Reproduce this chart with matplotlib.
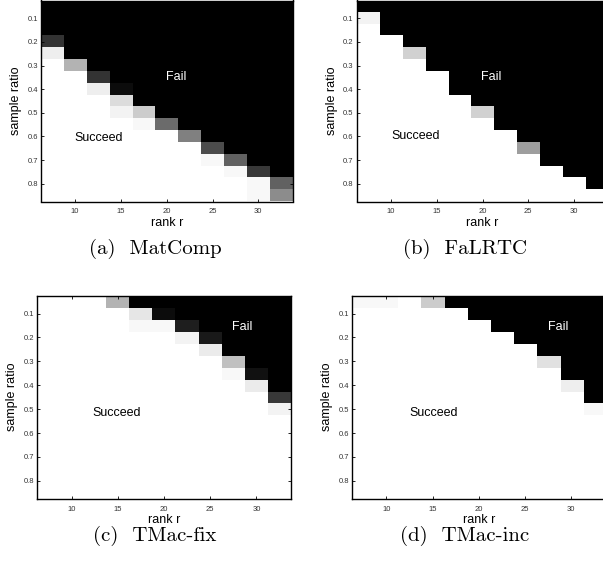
import matplotlib
matplotlib.use("Agg")
import numpy as np
import matplotlib.pyplot as plt

# rank r (columns) and sample ratio (rows) of each grid cell
ranks = [7.5, 10, 12.5, 15, 17.5, 20, 22.5, 25, 27.5, 30, 32.5]
ratios = [0.05, 0.10, 0.15, 0.20, 0.25, 0.30, 0.35, 0.40, 0.45,
          0.50, 0.55, 0.60, 0.65, 0.70, 0.75, 0.80, 0.85]

xticks = [10, 15, 20, 25, 30]
yticks = [0.1, 0.2, 0.3, 0.4, 0.5, 0.6, 0.7, 0.8]

# success rate, one row per sample ratio (0 = fail, 1 = succeed)
matcomp = [
    [0, 0, 0, 0, 0, 0, 0, 0, 0, 0, 0],
    [0, 0, 0, 0, 0, 0, 0, 0, 0, 0, 0],
    [0, 0, 0, 0, 0, 0, 0, 0, 0, 0, 0],
    [.2, 0, 0, 0, 0, 0, 0, 0, 0, 0, 0],
    [.93, 0, 0, 0, 0, 0, 0, 0, 0, 0, 0],
    [1, .7, 0, 0, 0, 0, 0, 0, 0, 0, 0],
    [1, 1, .2, 0, 0, 0, 0, 0, 0, 0, 0],
    [1, 1, .93, .05, 0, 0, 0, 0, 0, 0, 0],
    [1, 1, 1, .86, 0, 0, 0, 0, 0, 0, 0],
    [1, 1, 1, .95, .8, 0, 0, 0, 0, 0, 0],
    [1, 1, 1, 1, .97, .42, 0, 0, 0, 0, 0],
    [1, 1, 1, 1, 1, 1, .5, 0, 0, 0, 0],
    [1, 1, 1, 1, 1, 1, 1, .3, 0, 0, 0],
    [1, 1, 1, 1, 1, 1, 1, .97, .38, 0, 0],
    [1, 1, 1, 1, 1, 1, 1, 1, .97, .22, 0],
    [1, 1, 1, 1, 1, 1, 1, 1, 1, .97, .38],
    [1, 1, 1, 1, 1, 1, 1, 1, 1, .97, .55],
]

falrtc = [
    [0, 0, 0, 0, 0, 0, 0, 0, 0, 0, 0],
    [.95, 0, 0, 0, 0, 0, 0, 0, 0, 0, 0],
    [1, 0, 0, 0, 0, 0, 0, 0, 0, 0, 0],
    [1, 1, 0, 0, 0, 0, 0, 0, 0, 0, 0],
    [1, 1, .82, 0, 0, 0, 0, 0, 0, 0, 0],
    [1, 1, 1, 0, 0, 0, 0, 0, 0, 0, 0],
    [1, 1, 1, 1, 0, 0, 0, 0, 0, 0, 0],
    [1, 1, 1, 1, 0, 0, 0, 0, 0, 0, 0],
    [1, 1, 1, 1, 1, 0, 0, 0, 0, 0, 0],
    [1, 1, 1, 1, 1, .82, 0, 0, 0, 0, 0],
    [1, 1, 1, 1, 1, 1, 0, 0, 0, 0, 0],
    [1, 1, 1, 1, 1, 1, 1, 0, 0, 0, 0],
    [1, 1, 1, 1, 1, 1, 1, .62, 0, 0, 0],
    [1, 1, 1, 1, 1, 1, 1, 1, 0, 0, 0],
    [1, 1, 1, 1, 1, 1, 1, 1, 1, 0, 0],
    [1, 1, 1, 1, 1, 1, 1, 1, 1, 1, 0],
    [1, 1, 1, 1, 1, 1, 1, 1, 1, 1, 1],
]

tmac_fix = [
    [1, 1, 1, .7, 0, 0, 0, 0, 0, 0, 0],
    [1, 1, 1, 1, .9, .05, 0, 0, 0, 0, 0],
    [1, 1, 1, 1, .97, .97, .12, 0, 0, 0, 0],
    [1, 1, 1, 1, 1, 1, .95, .1, 0, 0, 0],
    [1, 1, 1, 1, 1, 1, 1, .92, 0, 0, 0],
    [1, 1, 1, 1, 1, 1, 1, 1, .75, 0, 0],
    [1, 1, 1, 1, 1, 1, 1, 1, .97, .07, 0],
    [1, 1, 1, 1, 1, 1, 1, 1, 1, .92, 0],
    [1, 1, 1, 1, 1, 1, 1, 1, 1, 1, .22],
    [1, 1, 1, 1, 1, 1, 1, 1, 1, 1, .95],
    [1, 1, 1, 1, 1, 1, 1, 1, 1, 1, 1],
    [1, 1, 1, 1, 1, 1, 1, 1, 1, 1, 1],
    [1, 1, 1, 1, 1, 1, 1, 1, 1, 1, 1],
    [1, 1, 1, 1, 1, 1, 1, 1, 1, 1, 1],
    [1, 1, 1, 1, 1, 1, 1, 1, 1, 1, 1],
    [1, 1, 1, 1, 1, 1, 1, 1, 1, 1, 1],
    [1, 1, 1, 1, 1, 1, 1, 1, 1, 1, 1],
]

tmac_inc = [
    [.97, .97, 1, .8, 0, 0, 0, 0, 0, 0, 0],
    [1, 1, 1, 1, 1, 0, 0, 0, 0, 0, 0],
    [1, 1, 1, 1, 1, 1, 0, 0, 0, 0, 0],
    [1, 1, 1, 1, 1, 1, 1, 0, 0, 0, 0],
    [1, 1, 1, 1, 1, 1, 1, 1, 0, 0, 0],
    [1, 1, 1, 1, 1, 1, 1, 1, .88, 0, 0],
    [1, 1, 1, 1, 1, 1, 1, 1, 1, 0, 0],
    [1, 1, 1, 1, 1, 1, 1, 1, 1, .93, 0],
    [1, 1, 1, 1, 1, 1, 1, 1, 1, 1, 0],
    [1, 1, 1, 1, 1, 1, 1, 1, 1, 1, .97],
    [1, 1, 1, 1, 1, 1, 1, 1, 1, 1, 1],
    [1, 1, 1, 1, 1, 1, 1, 1, 1, 1, 1],
    [1, 1, 1, 1, 1, 1, 1, 1, 1, 1, 1],
    [1, 1, 1, 1, 1, 1, 1, 1, 1, 1, 1],
    [1, 1, 1, 1, 1, 1, 1, 1, 1, 1, 1],
    [1, 1, 1, 1, 1, 1, 1, 1, 1, 1, 1],
    [1, 1, 1, 1, 1, 1, 1, 1, 1, 1, 1],
]

captions = ['(a)  MatComp', '(b)  FaLRTC', '(c)  TMac-fix', '(d)  TMac-inc']
fail_pos = [(21, 0.35), (21, 0.35), (28.5, 0.155), (28.6, 0.155)]
succ_pos = [(12.6, 0.605), (12.7, 0.6), (14.9, 0.515), (15.1, 0.515)]

W, H = 603, 565
fig = plt.figure(figsize=(W / 100, H / 100), dpi=100)

# axes boxes in pixels: left, top, width, height
boxes = [(40.7, 0.5, 252, 201), (356.5, 0.5, 252, 201),
         (37, 295.7, 254, 203), (351.7, 295.7, 254, 203)]
cap_xy = [(155, 249), (465, 249), (155, 536), (465, 536)]

dr = ratios[1] - ratios[0]
dk = ranks[1] - ranks[0]
ext = [ranks[0] - dk / 2, ranks[-1] + dk / 2, ratios[-1] + dr / 2, ratios[0] - dr / 2]

for i, data in enumerate([matcomp, falrtc, tmac_fix, tmac_inc]):
    l, t, w, h = boxes[i]
    ax = fig.add_axes([l / W, 1 - (t + h) / H, w / W, h / H])
    ax.imshow(np.array(data), cmap='gray', vmin=0, vmax=1, extent=ext,
              aspect='auto', interpolation='nearest')
    ax.set_xticks(xticks)
    ax.set_yticks(yticks)
    ax.tick_params(direction='in', length=2.5, width=0.6, labelsize=5.5,
                   top=True, right=True, pad=2, labelcolor='#333333')
    for lab in ax.get_xticklabels() + ax.get_yticklabels():
        lab.set_fontfamily('Liberation Sans')
    ax.tick_params(axis='x', pad=5)
    for s in ax.spines.values():
        s.set_linewidth(1.0)
    ax.set_xlabel('rank r', fontsize=9, family='Liberation Sans', labelpad=1)
    ax.set_ylabel('sample ratio', fontsize=9, family='Liberation Sans', labelpad=4)
    ax.text(fail_pos[i][0], fail_pos[i][1], 'Fail', color='white', fontsize=9,
            family='Liberation Sans', ha='center', va='center')
    ax.text(succ_pos[i][0], succ_pos[i][1], 'Succeed', color='black', fontsize=9,
            family='Liberation Sans', ha='center', va='center')
    fig.text(cap_xy[i][0] / W, 1 - cap_xy[i][1] / H, captions[i], fontsize=15,
             family='cmr10', ha='center', va='center')

fig.savefig('out.png', dpi=100)
